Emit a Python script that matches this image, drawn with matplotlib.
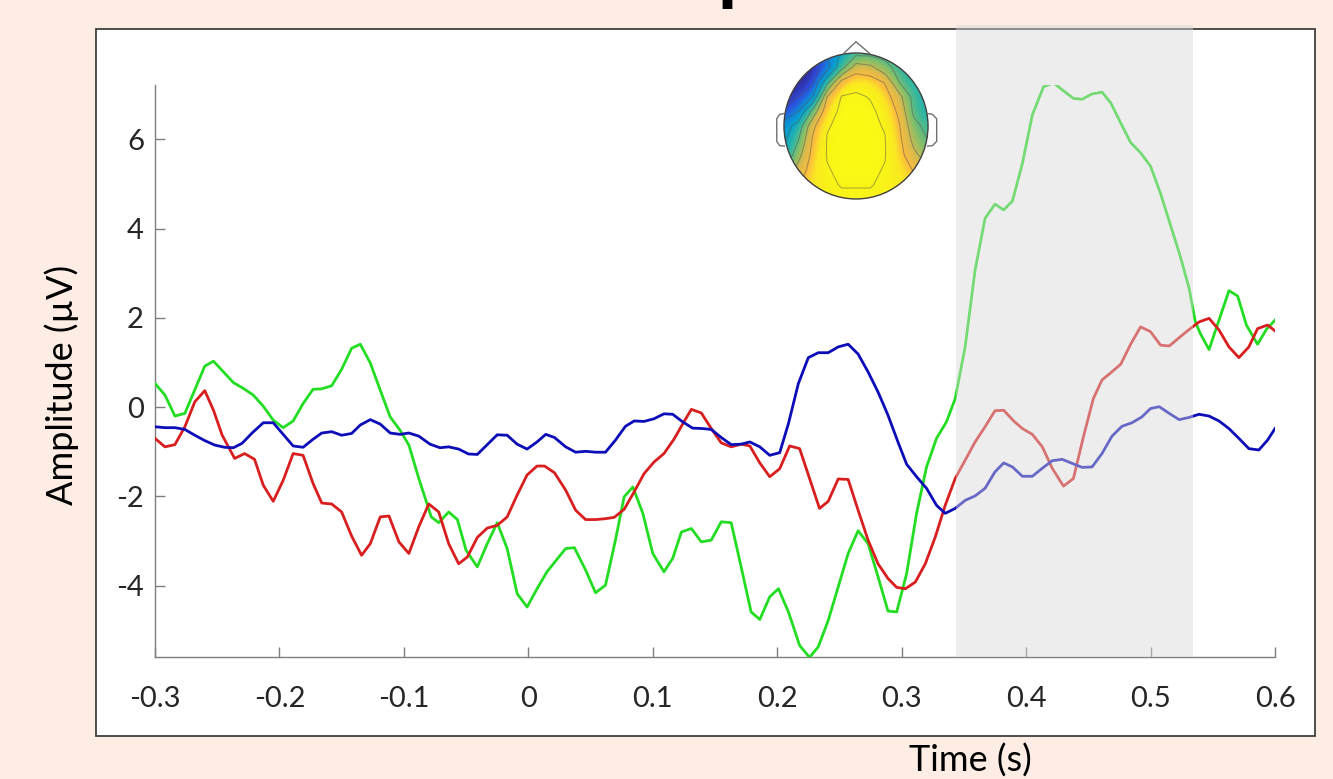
import numpy as np
import matplotlib.pyplot as plt
from matplotlib.patches import Rectangle, Circle
from matplotlib.colors import LinearSegmentedColormap

plt.rcParams['axes.unicode_minus'] = False
plt.rcParams['font.family'] = ['Lato', 'DejaVu Sans']

#-------------------------------------------------------------#
# ERP traces: time (s) and amplitude (uV) at each vertex
#-------------------------------------------------------------#
green_t = [-0.300, -0.292, -0.284, -0.276, -0.260, -0.253, -0.245, -0.237, -0.229, -0.221,
           -0.213, -0.205, -0.197, -0.189, -0.181, -0.173, -0.166, -0.158, -0.150, -0.142,
           -0.135, -0.127, -0.119, -0.111, -0.103, -0.096, -0.088, -0.078, -0.072, -0.064,
           -0.057, -0.050, -0.041, -0.033, -0.025, -0.017, -0.009, -0.001, 0.007, 0.015,
           0.023, 0.030, 0.037, 0.046, 0.054, 0.062, 0.070, 0.077, 0.084, 0.092,
           0.100, 0.109, 0.116, 0.123, 0.131, 0.139, 0.147, 0.155, 0.163, 0.171,
           0.179, 0.186, 0.194, 0.201, 0.209, 0.218, 0.226, 0.233, 0.241, 0.249,
           0.257, 0.265, 0.273, 0.281, 0.289, 0.296, 0.304, 0.312, 0.320, 0.328,
           0.336, 0.343, 0.351, 0.359, 0.367, 0.375, 0.382, 0.389, 0.397, 0.405,
           0.414, 0.422, 0.430, 0.438, 0.445, 0.453, 0.461, 0.468, 0.476, 0.484,
           0.492, 0.500, 0.508, 0.516, 0.524, 0.531, 0.536, 0.540, 0.547, 0.555,
           0.563, 0.570, 0.577, 0.586, 0.593, 0.600]
green_v = [0.53, 0.27, -0.20, -0.14, 0.92, 1.03, 0.79, 0.55, 0.42, 0.27,
           0.02, -0.29, -0.46, -0.31, 0.08, 0.40, 0.41, 0.48, 0.85, 1.32,
           1.41, 0.99, 0.38, -0.22, -0.52, -0.85, -1.60, -2.46, -2.59, -2.35,
           -2.52, -3.21, -3.58, -3.06, -2.59, -3.17, -4.18, -4.48, -4.07, -3.69,
           -3.41, -3.17, -3.15, -3.65, -4.16, -3.99, -2.98, -2.01, -1.79, -2.38,
           -3.28, -3.69, -3.39, -2.80, -2.72, -3.02, -2.98, -2.57, -2.59, -3.58,
           -4.59, -4.76, -4.25, -4.07, -4.59, -5.34, -5.61, -5.37, -4.78, -4.03,
           -3.28, -2.77, -3.06, -3.80, -4.57, -4.59, -3.73, -2.38, -1.34, -0.70,
           -0.33, 0.19, 1.35, 3.07, 4.23, 4.55, 4.42, 4.62, 5.46, 6.55,
           7.18, 7.27, 7.09, 6.92, 6.90, 7.02, 7.06, 6.82, 6.37, 5.93,
           5.70, 5.40, 4.79, 4.08, 3.37, 2.66, 1.91, 1.65, 1.29, 1.95,
           2.61, 2.49, 1.84, 1.41, 1.74, 1.95]

red_t = [-0.300, -0.292, -0.284, -0.276, -0.268, -0.260, -0.253, -0.246, -0.236, -0.228,
         -0.220, -0.213, -0.205, -0.197, -0.189, -0.181, -0.173, -0.166, -0.158, -0.150,
         -0.142, -0.134, -0.127, -0.119, -0.112, -0.104, -0.096, -0.088, -0.080, -0.072,
         -0.064, -0.056, -0.049, -0.041, -0.033, -0.025, -0.017, -0.009, -0.001, 0.007,
         0.013, 0.021, 0.030, 0.038, 0.046, 0.054, 0.062, 0.069, 0.077, 0.085,
         0.093, 0.101, 0.109, 0.117, 0.125, 0.131, 0.139, 0.147, 0.155, 0.163,
         0.171, 0.178, 0.186, 0.194, 0.202, 0.210, 0.218, 0.226, 0.234, 0.241,
         0.249, 0.257, 0.265, 0.273, 0.281, 0.289, 0.296, 0.303, 0.311, 0.319,
         0.327, 0.335, 0.343, 0.351, 0.359, 0.367, 0.375, 0.382, 0.390, 0.397,
         0.405, 0.413, 0.421, 0.430, 0.438, 0.446, 0.454, 0.461, 0.468, 0.476,
         0.484, 0.492, 0.500, 0.508, 0.515, 0.524, 0.531, 0.539, 0.547, 0.555,
         0.563, 0.571, 0.579, 0.586, 0.594, 0.600]
red_v = [-0.70, -0.89, -0.84, -0.44, 0.12, 0.37, -0.07, -0.63, -1.15, -1.04,
         -1.17, -1.75, -2.11, -1.64, -1.04, -1.08, -1.71, -2.15, -2.17, -2.35,
         -2.89, -3.32, -3.06, -2.46, -2.44, -3.02, -3.28, -2.68, -2.17, -2.35,
         -3.06, -3.51, -3.36, -2.92, -2.71, -2.65, -2.46, -1.97, -1.52, -1.32,
         -1.32, -1.47, -1.86, -2.31, -2.52, -2.52, -2.50, -2.47, -2.29, -1.90,
         -1.49, -1.23, -1.04, -0.72, -0.33, -0.05, -0.13, -0.48, -0.80, -0.89,
         -0.83, -0.87, -1.25, -1.56, -1.38, -0.87, -0.93, -1.60, -2.27, -2.11,
         -1.61, -1.62, -2.31, -2.98, -3.51, -3.84, -4.04, -4.07, -3.92, -3.51,
         -2.91, -2.20, -1.60, -1.19, -0.78, -0.44, -0.08, -0.07, -0.31, -0.48,
         -0.61, -0.89, -1.37, -1.77, -1.60, -0.67, 0.19, 0.61, 0.77, 0.96,
         1.41, 1.80, 1.69, 1.39, 1.37, 1.58, 1.74, 1.91, 1.99, 1.73,
         1.35, 1.11, 1.35, 1.76, 1.84, 1.71]

blue_t = [-0.300, -0.292, -0.284, -0.276, -0.268, -0.260, -0.252, -0.244, -0.237, -0.230,
          -0.222, -0.213, -0.205, -0.197, -0.189, -0.181, -0.173, -0.166, -0.158, -0.150,
          -0.142, -0.135, -0.127, -0.119, -0.111, -0.103, -0.096, -0.088, -0.079, -0.071,
          -0.064, -0.056, -0.048, -0.041, -0.033, -0.025, -0.017, -0.009, -0.001, 0.007,
          0.014, 0.021, 0.030, 0.038, 0.046, 0.054, 0.062, 0.070, 0.078, 0.085,
          0.093, 0.101, 0.109, 0.116, 0.124, 0.132, 0.140, 0.147, 0.155, 0.163,
          0.171, 0.178, 0.186, 0.194, 0.202, 0.209, 0.217, 0.225, 0.233, 0.241,
          0.249, 0.257, 0.265, 0.273, 0.281, 0.289, 0.297, 0.304, 0.312, 0.320,
          0.328, 0.335, 0.343, 0.351, 0.359, 0.367, 0.375, 0.382, 0.389, 0.397,
          0.405, 0.413, 0.421, 0.429, 0.437, 0.445, 0.453, 0.461, 0.469, 0.477,
          0.485, 0.493, 0.500, 0.507, 0.515, 0.523, 0.531, 0.539, 0.547, 0.555,
          0.563, 0.571, 0.579, 0.587, 0.594, 0.600]
blue_v = [-0.44, -0.46, -0.46, -0.50, -0.63, -0.75, -0.85, -0.90, -0.91, -0.81,
          -0.58, -0.35, -0.35, -0.61, -0.87, -0.90, -0.72, -0.58, -0.55, -0.63,
          -0.59, -0.40, -0.28, -0.38, -0.58, -0.61, -0.58, -0.65, -0.83, -0.91,
          -0.89, -0.94, -1.05, -1.06, -0.84, -0.62, -0.63, -0.83, -0.94, -0.78,
          -0.61, -0.68, -0.89, -1.01, -0.99, -1.01, -1.01, -0.74, -0.43, -0.31,
          -0.32, -0.26, -0.15, -0.16, -0.33, -0.47, -0.48, -0.50, -0.68, -0.84,
          -0.83, -0.78, -0.89, -1.08, -1.02, -0.37, 0.53, 1.11, 1.22, 1.22,
          1.35, 1.41, 1.19, 0.79, 0.34, -0.18, -0.78, -1.28, -1.56, -1.82,
          -2.20, -2.38, -2.27, -2.09, -1.99, -1.82, -1.45, -1.25, -1.34, -1.55,
          -1.55, -1.37, -1.20, -1.17, -1.26, -1.35, -1.34, -1.04, -0.65, -0.43,
          -0.35, -0.22, -0.03, 0.01, -0.14, -0.28, -0.23, -0.16, -0.20, -0.31,
          -0.48, -0.70, -0.93, -0.96, -0.74, -0.48]

# analysis window (s)
win_start = 0.344
win_end = 0.534

xticks = [-0.3, -0.2, -0.1, 0, 0.1, 0.2, 0.3, 0.4, 0.5, 0.6]
xticklabels = ['-0.3', '-0.2', '-0.1', '0', '0.1', '0.2', '0.3', '0.4', '0.5', '0.6']
yticks = [-4, -2, 0, 2, 4, 6]
yticklabels = ['-4', '-2', '0', '2', '4', '6']

# scalp map (normalised) on an 11x11 grid, rows front -> back, cols left -> right
topo_vals = [[0.05, 0.05, 0.10, 0.25, 0.40, 0.50, 0.50, 0.50, 0.45, 0.45, 0.45],
             [0.00, 0.00, 0.02, 0.15, 0.50, 0.78, 0.74, 0.60, 0.50, 0.45, 0.45],
             [0.00, 0.02, 0.05, 0.50, 0.90, 0.95, 0.93, 0.84, 0.55, 0.45, 0.45],
             [0.02, 0.08, 0.22, 0.85, 0.99, 1.00, 0.98, 0.92, 0.75, 0.50, 0.45],
             [0.10, 0.22, 0.60, 0.95, 1.00, 1.00, 1.00, 0.96, 0.82, 0.52, 0.45],
             [0.30, 0.45, 0.82, 0.98, 1.00, 1.00, 1.00, 0.98, 0.86, 0.60, 0.50],
             [0.35, 0.55, 0.87, 0.99, 1.00, 1.00, 1.00, 0.99, 0.89, 0.66, 0.55],
             [0.40, 0.65, 0.90, 0.99, 1.00, 1.00, 1.00, 0.99, 0.91, 0.74, 0.62],
             [0.55, 0.76, 0.92, 0.98, 1.00, 1.00, 1.00, 0.98, 0.94, 0.84, 0.74],
             [0.65, 0.84, 0.93, 0.97, 0.99, 0.99, 0.99, 0.97, 0.95, 0.90, 0.84],
             [0.75, 0.88, 0.94, 0.96, 0.97, 0.97, 0.97, 0.96, 0.95, 0.92, 0.88]]

# parula-like colormap
parula = LinearSegmentedColormap.from_list('parula', [
    (0.00, (0.20, 0.15, 0.55)),
    (0.12, (0.18, 0.30, 0.88)),
    (0.25, (0.07, 0.52, 0.85)),
    (0.38, (0.03, 0.64, 0.80)),
    (0.50, (0.20, 0.72, 0.63)),
    (0.62, (0.50, 0.75, 0.42)),
    (0.75, (0.85, 0.73, 0.30)),
    (0.86, (0.99, 0.74, 0.24)),
    (0.93, (0.98, 0.91, 0.13)),
    (1.00, (0.98, 0.98, 0.08))])

#-------------------------------------------------------------#
# Figure and framed panel
#-------------------------------------------------------------#
W, H = 1333, 779
fig = plt.figure(figsize=(W / 100, H / 100), dpi=100)
fig.patch.set_facecolor('#fdede4')

frame = Rectangle((96 / W, 1 - 736 / H), (1315 - 96) / W, (736 - 29) / H,
                  transform=fig.transFigure, facecolor='white',
                  edgecolor='#404040', linewidth=1.3, zorder=-5)
fig.patches.append(frame)

# cut-off slide title
fig.text(717.5 / W, 1 + 3 / H, 'p', fontsize=40, fontweight='bold',
         family='DejaVu Sans', ha='left', va='baseline', color='black')

ax = fig.add_axes([155 / W, 1 - 657 / H, 1120 / W, 572 / H])
ax.set_facecolor('none')

ax.plot(green_t, green_v, color='#22dd22', lw=2.0, zorder=3)
ax.plot(red_t, red_v, color='#d81e1e', lw=2.0, zorder=3)
ax.plot(blue_t, blue_v, color='#0c0cb8', lw=2.0, zorder=3)

ax.axvspan(win_start, win_end, ymin=0, ymax=(657 - 25) / 572,
           color='#d9d9d9', alpha=0.45, lw=0, zorder=4, clip_on=False)

ax.set_xlim(-0.3, 0.6)
ax.set_ylim(-5.6, 7.22)
ax.set_xticks(xticks)
ax.set_xticklabels(xticklabels)
ax.set_yticks(yticks)
ax.set_yticklabels(yticklabels)

for s in ['top', 'right']:
    ax.spines[s].set_visible(False)
for s in ['left', 'bottom']:
    ax.spines[s].set_color('#7f7f7f')
    ax.spines[s].set_linewidth(1.0)

ax.tick_params(direction='in', length=7, width=1, color='#7f7f7f',
               labelsize=21, labelcolor='#262626')
ax.tick_params(axis='x', pad=21)
ax.tick_params(axis='y', pad=8)

fig.text(62 / W, 1 - 385 / H, 'Amplitude (\u00b5V)', rotation=90,
         ha='center', va='center', fontsize=26, color='black')
fig.text(970 / W, 1 - 761 / H, 'Time (s)', ha='center', va='center',
         fontsize=26, color='black')

#-------------------------------------------------------------#
# Scalp topography inset
#-------------------------------------------------------------#
hx = fig.add_axes([770 / W, 1 - 207 / H, 172 / W, 172 / H])
hx.set_xlim(-1.194, 1.194)
hx.set_ylim(-1.110, 1.247)
hx.axis('off')

tv = np.array(topo_vals)
head = Circle((0, 0), 1.0, transform=hx.transData)
img = hx.imshow(tv, extent=(-1.1, 1.1, -1.1, 1.1),
                origin='upper', cmap=parula, vmin=0, vmax=1,
                interpolation='bicubic', aspect='auto', zorder=1)
img.set_clip_path(head)

g = np.linspace(-1, 1, tv.shape[0])
cs = hx.contour(g, g[::-1], tv, levels=[0.08, 0.22, 0.38, 0.55, 0.7, 0.85, 0.985],
                colors='#505050', linewidths=0.7, alpha=0.5, zorder=2)
cs.set_clip_path(head)

hx.add_patch(Circle((0, 0), 1.0, fill=False, edgecolor='#404040', lw=1.0, zorder=3))
hx.plot([-0.176, 0.0, 0.194], [0.99, 1.155, 0.99], color='#707070', lw=1.0, zorder=3)
hx.plot([-0.995, -1.06, -1.10, -1.10, -1.06, -0.995],
        [0.17, 0.16, 0.10, -0.21, -0.27, -0.275], color='#707070', lw=1.0, zorder=3)
hx.plot([0.995, 1.06, 1.12, 1.12, 1.06, 0.995],
        [0.17, 0.16, 0.10, -0.21, -0.27, -0.275], color='#707070', lw=1.0, zorder=3)

plt.savefig('out.png', dpi=100, facecolor=fig.get_facecolor())
